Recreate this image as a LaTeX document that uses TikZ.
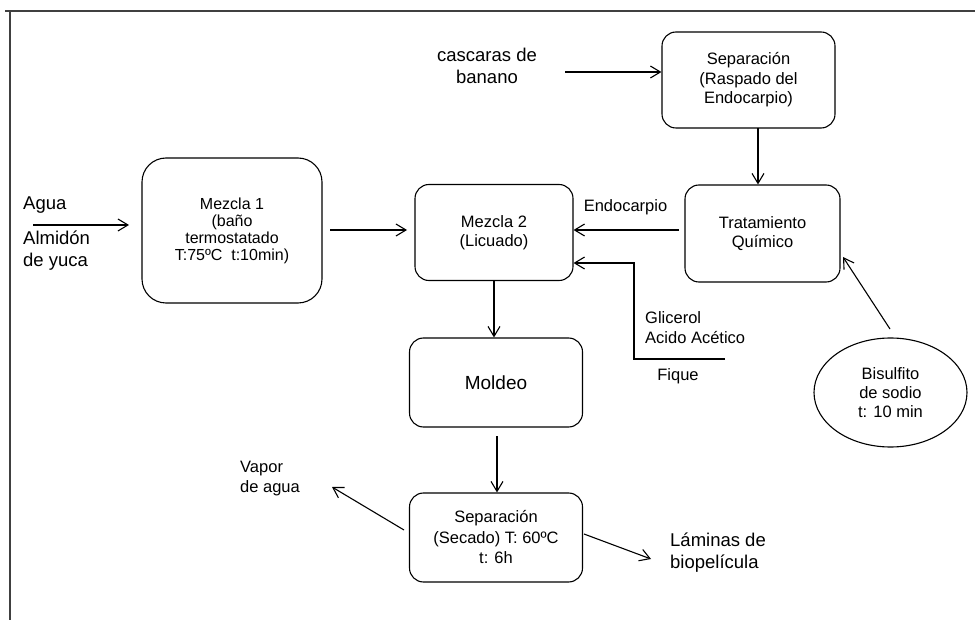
\documentclass[tikz,border=0pt]{standalone}
\usepackage{fontspec}
\setmainfont{Liberation Sans}
\usetikzlibrary{arrows.meta,shapes.geometric}
\tikzset{
  proc/.style={draw, line width=1.1pt, rounded corners=14pt, align=center, inner sep=2pt,
    font=\fontsize{16.5}{19.5}\selectfont},
  lbl/.style={inner sep=0pt, font=\fontsize{18.5}{22}\selectfont},
  slbl/.style={inner sep=0pt, font=\fontsize{16.5}{19.5}\selectfont},
  arr/.style={line width=1.1pt, -{Straight Barb[length=10pt,width=12pt,line width=1.1pt]}},
  ln/.style={line width=1.1pt},
  frame/.style={line width=1.8pt, draw=black!75}
}
\begin{document}
\begin{tikzpicture}[x=1pt,y=-1pt]
\useasboundingbox (0,0) rectangle (975,620);
% frame
\coordinate (fa) at (10,620);
\coordinate (fb) at (10,11);
\coordinate (fc) at (975,11);
\draw[frame] (fa) -- (fb) -- (fc);
\draw[frame] (5,11) -- (fb);

% process boxes
\node[proc, rounded corners=24pt, minimum width=180pt, minimum height=145pt,
  font=\fontsize{16}{17}\selectfont] (m1) at (232,230.5)
  {Mezcla 1\\ (baño\\termostatado\\T:75ºC\ \ t:10min)};
\node[proc, minimum width=158pt, minimum height=96pt] (m2) at (494,232.5)
  {Mezcla 2\\(Licuado)};
\node[proc, minimum width=173pt, minimum height=96pt] (sep1) at (748.5,80)
  {Separación\\(Raspado del\\Endocarpio)};
\node[proc, minimum width=155pt, minimum height=97pt] (trat) at (762.5,233.5)
  {Tratamiento\\Químico};
\node[proc, minimum width=173pt, minimum height=89pt, font=\fontsize{19}{22}\selectfont] (mold) at (496,382.5)
  {Moldeo};
\node[proc, minimum width=173pt, minimum height=89pt, font=\fontsize{16.5}{20.5}\selectfont] (sec) at (496,537.5)
  {Separación\\(Secado) T: 60ºC\\t: 6h};
\node[draw, ellipse, line width=1.1pt, minimum width=153pt, minimum height=109pt, inner sep=0pt,
  align=center, font=\fontsize{16.5}{19}\selectfont] (bis) at (890.5,392.5)
  {Bisulfito\\de sodio\\t: 10 min};

% labels
\node[lbl, anchor=west] (agua) at (23,205) {Agua};
\node[lbl, anchor=west, align=left] (alm) at (23,251) {Almidón\\de yuca};
\node[lbl, align=center] (casc) at (487,66) {cascaras de\\banano};
\node[slbl] (endo) at (625.5,207) {Endocarpio};
\node[slbl, anchor=west, align=left] (glic) at (645,327.5) {Glicerol\\Acido Acético};
\node[slbl] (fique) at (678,376) {Fique};
\node[slbl, anchor=west, align=left] (vapor) at (240,478.5) {Vapor\\de agua};
\node[lbl, anchor=west, align=left] (lam) at (670,553) {Láminas de\\biopelícula};

% connectors
\coordinate (aguaS) at (33,225);
\coordinate (aguaE) at (129,225);
\draw[arr] (aguaS) -- (aguaE);

\coordinate (m1o) at (330,230);
\coordinate (m2i) at (407,230);
\draw[arr] (m1o) -- (m2i);

\coordinate (cascS) at (565,72);
\draw[arr] (cascS) -- (cascS -| sep1.west);

\coordinate (s1o) at (758,128);
\draw[arr] (s1o) -- (s1o |- trat.north);

\coordinate (endoS) at (679,230);
\draw[arr] (endoS) -- (endoS -| m2.east);

\coordinate (g1) at (725,359);
\coordinate (g2) at (634,359);
\coordinate (g3) at (634,263);
\draw[arr] (g1) -- (g2) -- (g3) -- (g3 -| m2.east);

\coordinate (m2o) at (494,281);
\draw[arr] (m2o) -- (m2o |- mold.north);

\coordinate (mo) at (497,436);
\draw[arr] (mo) -- (mo |- sec.north);

\coordinate (vS) at (404,530);
\coordinate (vE) at (332,487);
\draw[arr] (vS) -- (vE);

\coordinate (lS) at (584,534);
\coordinate (lE) at (651,559);
\draw[arr] (lS) -- (lE);

\coordinate (bS) at (890,329);
\coordinate (bE) at (843,257);
\draw[arr] (bS) -- (bE);
\end{tikzpicture}
\end{document}
